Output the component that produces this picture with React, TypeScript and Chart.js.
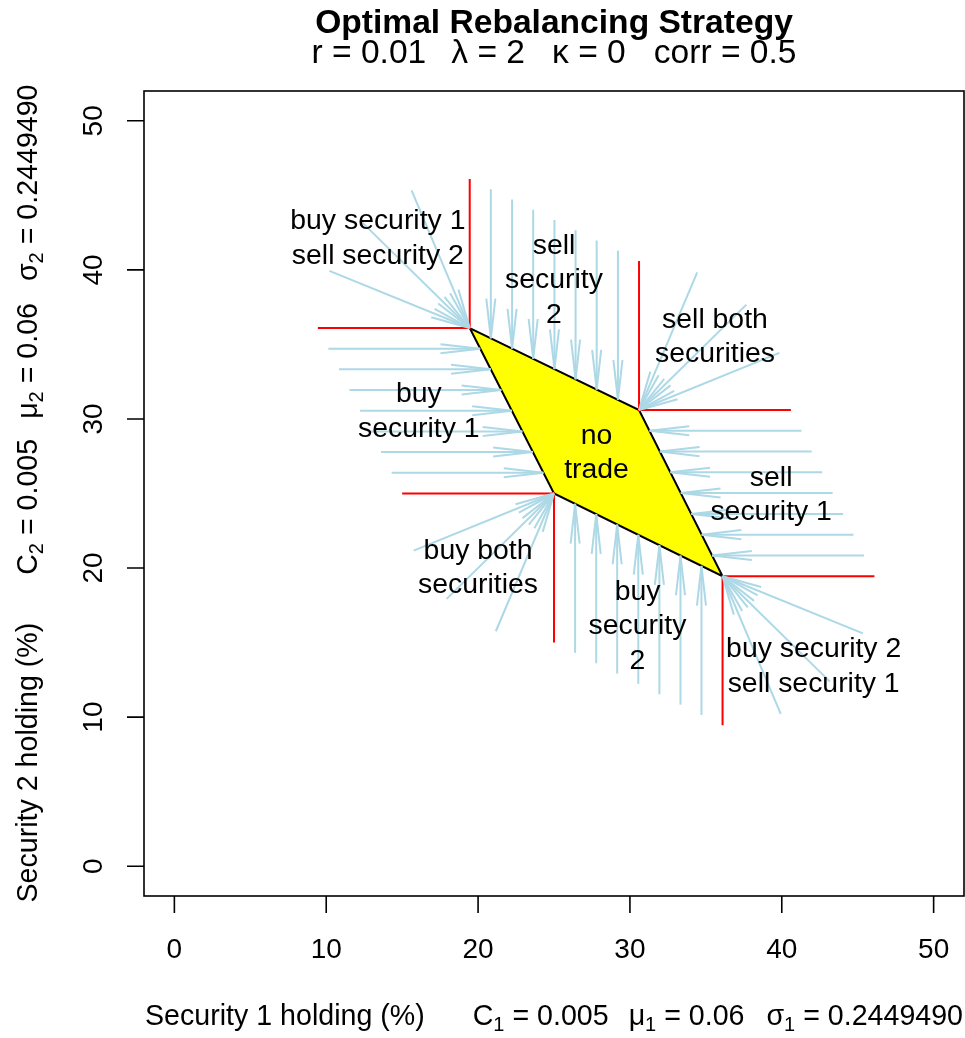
import React, { useEffect, useRef } from "react";
import { Chart, registerables } from "chart.js";

Chart.register(...registerables);

const FONT = '"Liberation Sans", Arial, Helvetica, sans-serif';

// ---- axes ----
const xTicks = [0, 10, 20, 30, 40, 50];
const yTicks = [0, 10, 20, 30, 40, 50];
const xTickLabels = ["0", "10", "20", "30", "40", "50"];
const yTickLabels = ["0", "10", "20", "30", "40", "50"];

// ---- no-trade region vertices (TL, TR, BR, BL) ----
const noTradeX = [19.45, 30.6, 36.1, 25.0];
const noTradeY = [36.1, 30.6, 19.45, 25.0];

// ---- red boundary rays per corner: [ray end, corner, ray end] ----
const boundaryX = [
  [19.45, 19.45, 9.45],
  [30.6, 30.6, 40.6],
  [25.0, 25.0, 15.0],
  [36.1, 36.1, 46.1],
];
const boundaryY = [
  [46.1, 36.1, 36.1],
  [40.6, 30.6, 30.6],
  [15.0, 25.0, 25.0],
  [9.45, 19.45, 19.45],
];

// ---- arrows: "sell security 2" (down onto upper edge) ----
const sell2X = [20.84, 22.24, 23.63, 25.03, 26.42, 27.81, 29.21];
const sell2FromY = [45.41, 44.72, 44.04, 43.35, 42.66, 41.97, 41.29];
const sell2ToY = [35.41, 34.72, 34.04, 33.35, 32.66, 31.97, 31.29];
// "buy security 1" (right onto left edge)
const buy1Y = [34.71, 33.33, 31.94, 30.55, 29.16, 27.78, 26.39];
const buy1FromX = [10.14, 10.84, 11.53, 12.23, 12.92, 13.61, 14.31];
const buy1ToX = [20.14, 20.84, 21.53, 22.23, 22.92, 23.61, 24.31];
// "sell security 1" (left onto right edge)
const sell1Y = [29.21, 27.81, 26.42, 25.03, 23.63, 22.24, 20.84];
const sell1FromX = [41.29, 41.97, 42.66, 43.35, 44.04, 44.72, 45.41];
const sell1ToX = [31.29, 31.97, 32.66, 33.35, 34.04, 34.72, 35.41];
// "buy security 2" (up onto lower edge)
const buy2X = [26.39, 27.78, 29.16, 30.55, 31.94, 33.33, 34.71];
const buy2FromY = [14.31, 13.61, 12.92, 12.23, 11.53, 10.84, 10.14];
const buy2ToY = [24.31, 23.61, 22.92, 22.23, 21.53, 20.84, 20.14];
// corner fans (arrows end at the corner vertices)
const fanTLFromX = [15.62, 12.38, 10.21];
const fanTLFromY = [45.34, 43.17, 39.93];
const fanTRFromX = [34.43, 37.67, 39.84];
const fanTRFromY = [39.84, 37.67, 34.43];
const fanBRFromX = [45.34, 43.17, 39.93];
const fanBRFromY = [15.62, 12.38, 10.21];
const fanBLFromX = [15.76, 17.93, 21.17];
const fanBLFromY = [21.17, 17.93, 15.76];

// ---- region labels ----
const labelText = [
  "buy security 1\nsell security 2",
  "sell\nsecurity\n2",
  "sell both\nsecurities",
  "buy\nsecurity 1",
  "no\ntrade",
  "sell\nsecurity 1",
  "buy both\nsecurities",
  "buy\nsecurity\n2",
  "buy security 2\nsell security 1",
];
const labelX = [13.4, 25.0, 35.6, 16.1, 27.8, 39.3, 20.0, 30.5, 42.1];
const labelY = [42.1, 39.3, 35.5, 30.5, 27.7, 24.9, 20.0, 16.1, 13.4];

type Arrow = { x0: number; y0: number; x1: number; y1: number };
const arrows: Arrow[] = [];
sell2X.forEach((x, i) => arrows.push({ x0: x, y0: sell2FromY[i], x1: x, y1: sell2ToY[i] }));
buy1Y.forEach((y, i) => arrows.push({ x0: buy1FromX[i], y0: y, x1: buy1ToX[i], y1: y }));
sell1Y.forEach((y, i) => arrows.push({ x0: sell1FromX[i], y0: y, x1: sell1ToX[i], y1: y }));
buy2X.forEach((x, i) => arrows.push({ x0: x, y0: buy2FromY[i], x1: x, y1: buy2ToY[i] }));
const fans = [
  [fanTLFromX, fanTLFromY, 0],
  [fanTRFromX, fanTRFromY, 1],
  [fanBRFromX, fanBRFromY, 2],
  [fanBLFromX, fanBLFromY, 3],
] as const;
fans.forEach(([fx, fy, c]) =>
  fx.forEach((x, i) => arrows.push({ x0: x, y0: fy[i], x1: noTradeX[c], y1: noTradeY[c] }))
);

const ARROW_COLOR = "#ADD8E6";
const HEAD_LEN = 40;
const HEAD_ANG = (6.5 * Math.PI) / 180;

type Seg = { t?: string; sub?: boolean; gap?: number };

function drawRich(
  ctx: CanvasRenderingContext2D,
  segs: Seg[],
  cx: number,
  baseY: number,
  rot: number,
  size: number,
  weight: string
) {
  const mainF = `${weight} ${size}px ${FONT}`;
  const subF = `${weight} ${Math.round(size * 0.7)}px ${FONT}`;
  const widths = segs.map((s) => {
    if (s.gap !== undefined) return s.gap;
    ctx.font = s.sub ? subF : mainF;
    return ctx.measureText(s.t || "").width;
  });
  const total = widths.reduce((a, b) => a + b, 0);
  ctx.save();
  ctx.translate(cx, baseY);
  ctx.rotate(rot);
  ctx.textAlign = "left";
  ctx.textBaseline = "alphabetic";
  ctx.fillStyle = "#000";
  let x = -total / 2;
  segs.forEach((s, i) => {
    if (s.gap === undefined) {
      ctx.font = s.sub ? subF : mainF;
      ctx.fillText(s.t || "", x, s.sub ? size * 0.22 : 0);
    }
    x += widths[i];
  });
  ctx.restore();
}

const rPlugin = {
  id: "rstyle",
  afterDatasetsDraw(chart: any) {
    const ctx: CanvasRenderingContext2D = chart.ctx;
    const xs = chart.scales.x;
    const ys = chart.scales.y;
    ctx.save();
    ctx.strokeStyle = ARROW_COLOR;
    ctx.lineWidth = 2;
    arrows.forEach((a) => {
      const px0 = xs.getPixelForValue(a.x0);
      const py0 = ys.getPixelForValue(a.y0);
      const px1 = xs.getPixelForValue(a.x1);
      const py1 = ys.getPixelForValue(a.y1);
      const ang = Math.atan2(py1 - py0, px1 - px0);
      ctx.beginPath();
      for (const s of [-1, 1]) {
        ctx.moveTo(px1, py1);
        ctx.lineTo(px1 - HEAD_LEN * Math.cos(ang + s * HEAD_ANG), py1 - HEAD_LEN * Math.sin(ang + s * HEAD_ANG));
      }
      ctx.stroke();
    });
    ctx.restore();
  },
  afterDraw(chart: any) {
    const ctx: CanvasRenderingContext2D = chart.ctx;
    const xs = chart.scales.x;
    const ys = chart.scales.y;
    const a = chart.chartArea;
    ctx.save();
    // box
    ctx.strokeStyle = "#000";
    ctx.lineWidth = 1.6;
    ctx.strokeRect(a.left, a.top, a.right - a.left, a.bottom - a.top);
    // ticks
    ctx.beginPath();
    xTicks.forEach((v) => {
      const p = xs.getPixelForValue(v);
      ctx.moveTo(p, a.bottom);
      ctx.lineTo(p, a.bottom + 17);
    });
    yTicks.forEach((v) => {
      const p = ys.getPixelForValue(v);
      ctx.moveTo(a.left, p);
      ctx.lineTo(a.left - 17, p);
    });
    ctx.stroke();
    // tick labels
    ctx.fillStyle = "#000";
    ctx.font = `28px ${FONT}`;
    ctx.textAlign = "center";
    ctx.textBaseline = "alphabetic";
    xTicks.forEach((v, i) => {
      ctx.fillText(xTickLabels[i], xs.getPixelForValue(v), 958);
    });
    yTicks.forEach((v, i) => {
      ctx.save();
      ctx.translate(102, ys.getPixelForValue(v));
      ctx.rotate(-Math.PI / 2);
      ctx.fillText(yTickLabels[i], 0, 0);
      ctx.restore();
    });
    // region labels
    ctx.font = `28.4px ${FONT}`;
    ctx.textAlign = "center";
    ctx.textBaseline = "middle";
    const lh = 34.5;
    labelText.forEach((t, i) => {
      const lines = t.split("\n");
      const cx = xs.getPixelForValue(labelX[i]);
      const cy = ys.getPixelForValue(labelY[i]);
      lines.forEach((ln, j) => {
        ctx.fillText(ln, cx, cy + (j - (lines.length - 1) / 2) * lh);
      });
    });
    ctx.restore();

    const cx = (a.left + a.right) / 2;
    const cy = (a.top + a.bottom) / 2;
    // title
    drawRich(ctx, [{ t: "Optimal Rebalancing Strategy" }], cx, 33, 0, 33.6, "bold");
    drawRich(
      ctx,
      [
        { t: "r = 0.01" },
        { gap: 25 },
        { t: "\u03bb = 2" },
        { gap: 27 },
        { t: "\u03ba = 0" },
        { gap: 28 },
        { t: "corr = 0.5" },
      ],
      cx,
      63,
      0,
      33.6,
      "normal"
    );
    const paramSegs = (k: string): Seg[] => [
      { t: `Security ${k} holding (%)` },
      { gap: 48 },
      { t: "C" },
      { t: k, sub: true },
      { t: " = 0.005" },
      { gap: 20 },
      { t: "\u03bc" },
      { t: k, sub: true },
      { t: " = 0.06" },
      { gap: 22 },
      { t: "\u03c3" },
      { t: k, sub: true },
      { t: " = 0.2449490" },
    ];
    // x label
    drawRich(ctx, paramSegs("1"), cx, 1025, 0, 28.6, "normal");
    // y label
    drawRich(ctx, paramSegs("2"), 37, cy, -Math.PI / 2, 28.6, "normal");
  },
};

export default function App() {
  const ref = useRef<HTMLCanvasElement>(null);
  useEffect(() => {
    const datasets: any[] = [];
    datasets.push({
      data: [0, 1, 2, 3, 0].map((i) => ({ x: noTradeX[i], y: noTradeY[i] })),
      showLine: true,
      fill: "shape",
      backgroundColor: "#FFFF00",
      borderColor: "#000000",
      borderWidth: 2,
      pointRadius: 0,
      tension: 0,
      order: 3,
    });
    arrows.forEach((ar) => {
      datasets.push({
        data: [
          { x: ar.x0, y: ar.y0 },
          { x: ar.x1, y: ar.y1 },
        ],
        showLine: true,
        fill: false,
        borderColor: ARROW_COLOR,
        borderWidth: 2,
        pointRadius: 0,
        order: 2,
      });
    });
    boundaryX.forEach((bx, i) => {
      datasets.push({
        data: bx.map((x, j) => ({ x, y: boundaryY[i][j] })),
        showLine: true,
        fill: false,
        borderColor: "#FF0000",
        borderWidth: 2,
        pointRadius: 0,
        order: 1,
      });
    });
    const chart = new Chart(ref.current as HTMLCanvasElement, {
      type: "scatter",
      data: { datasets },
      options: {
        responsive: false,
        animation: false,
        devicePixelRatio: 1,
        events: [],
        layout: { padding: { left: 144, top: 91, right: 1, bottom: 142 } },
        plugins: { legend: { display: false }, tooltip: { enabled: false } },
        scales: {
          x: { type: "linear", min: -2, max: 52, display: false },
          y: { type: "linear", min: -2, max: 52, display: false },
        },
      },
      plugins: [rPlugin],
    } as any);
    return () => chart.destroy();
  }, []);
  return (
    <div style={{ position: "absolute", left: 0, top: 0, width: 965, height: 1038, background: "#fff" }}>
      <canvas ref={ref} width={965} height={1038} style={{ display: "block" }} />
    </div>
  );
}
